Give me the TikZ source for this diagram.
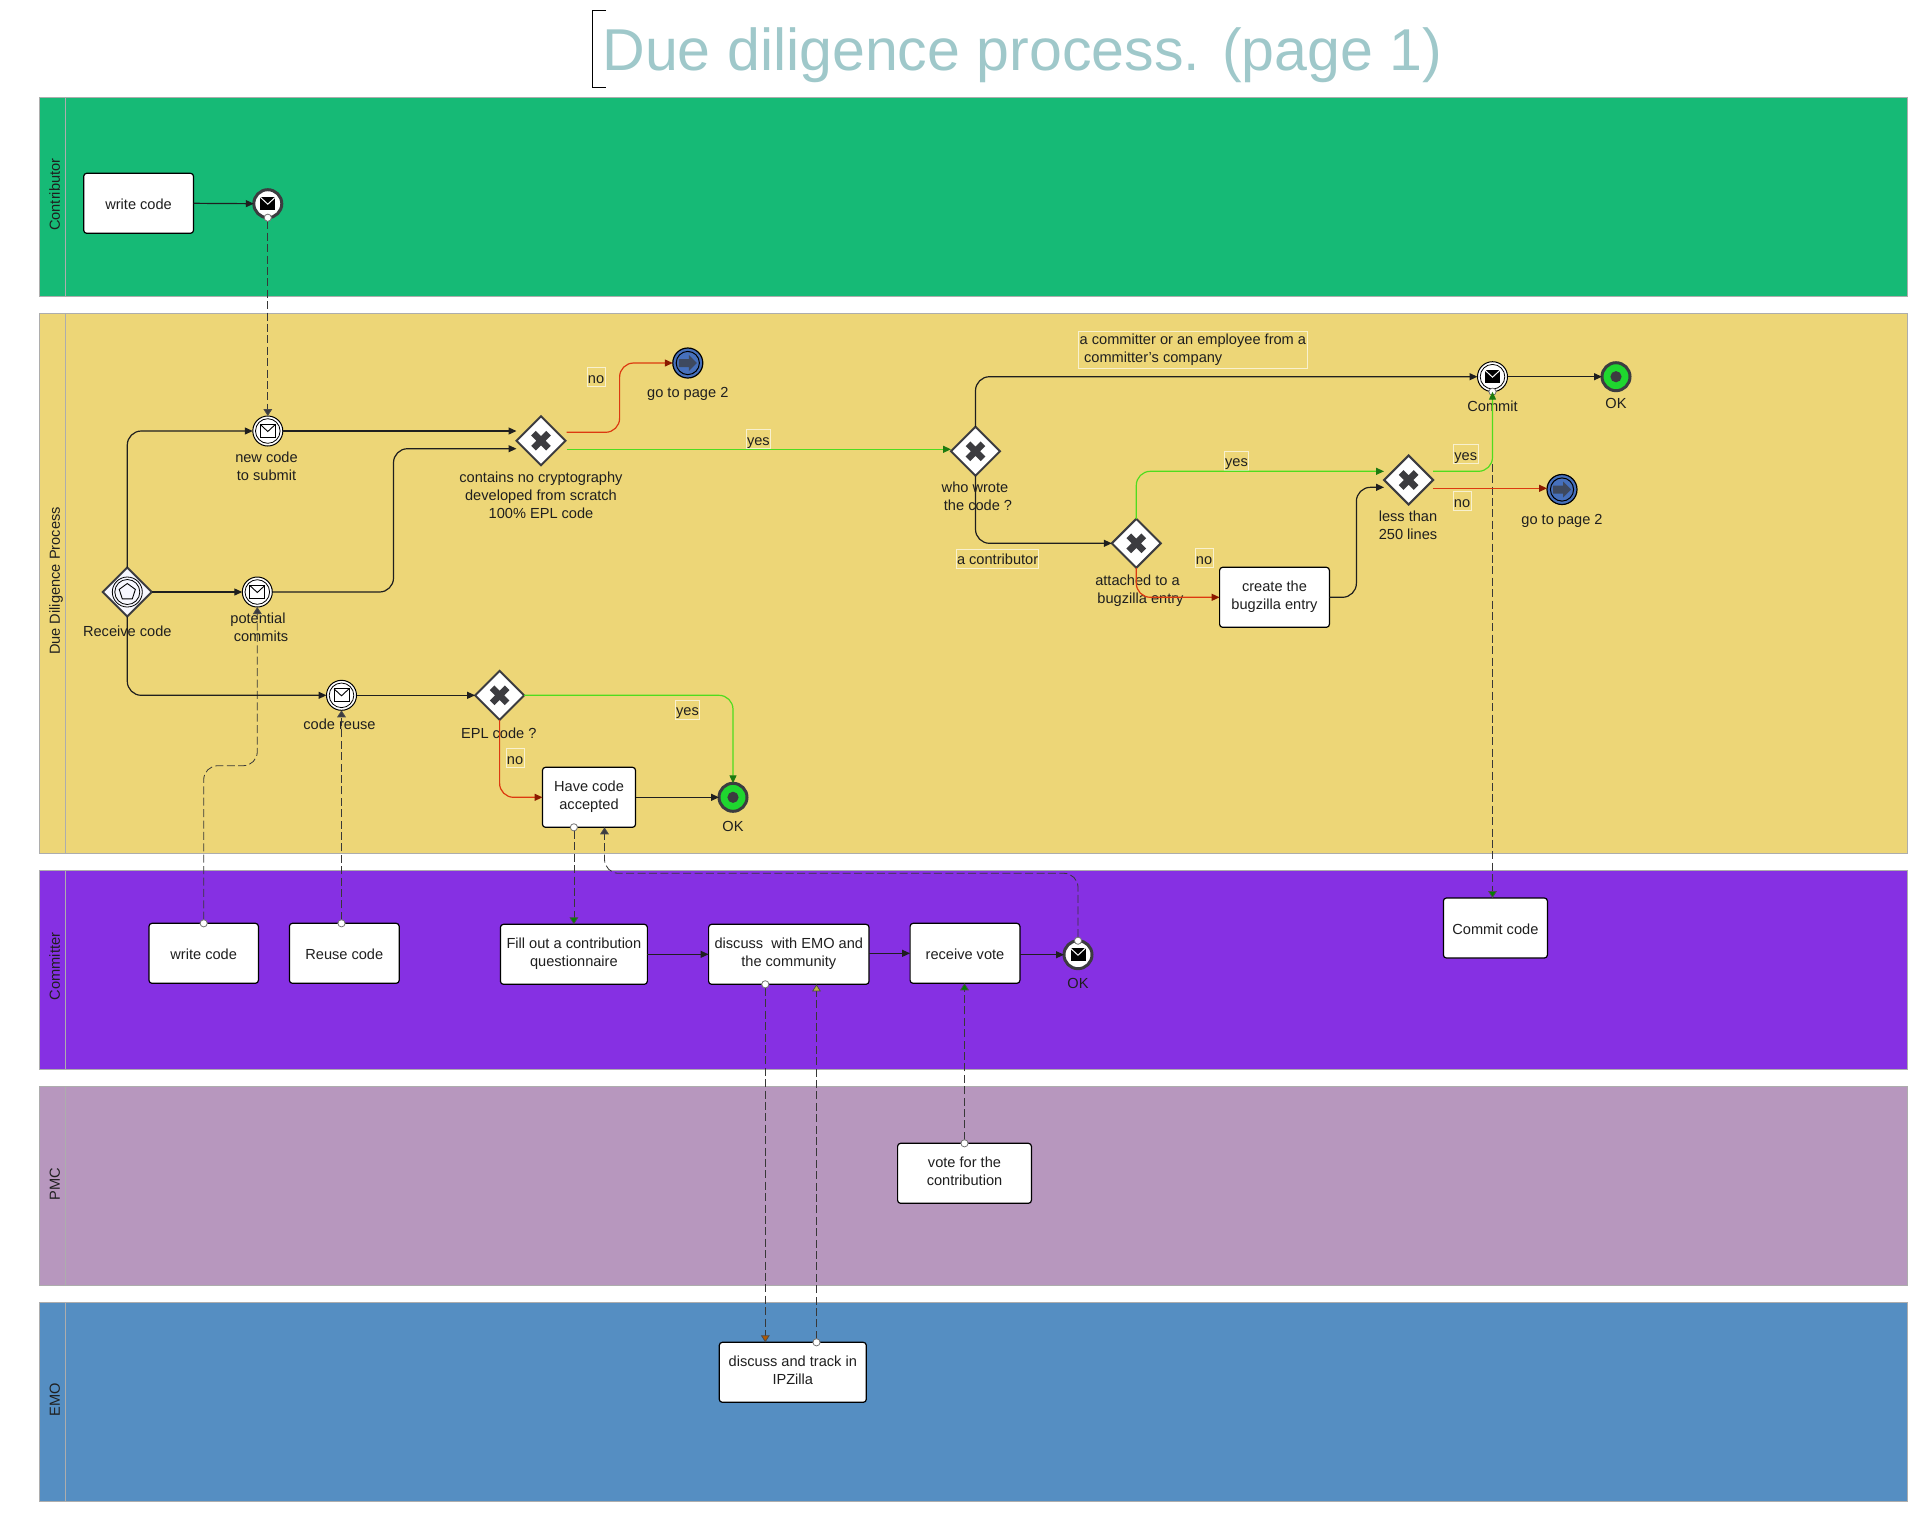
\documentclass[tikz,border=0pt]{standalone}
\usepackage{fontspec}
\setmainfont{Liberation Sans}
\usetikzlibrary{arrows.meta,shapes.geometric,calc}
\definecolor{cGreen}{HTML}{16BA76}
\definecolor{cYellow}{HTML}{EDD677}
\definecolor{cPurple}{HTML}{8630E3}
\definecolor{cMauve}{HTML}{B797BE}
\definecolor{cBlue}{HTML}{558EC2}
\definecolor{cTitle}{HTML}{9FC8CA}
\definecolor{cDark}{HTML}{3C3C40}
\definecolor{cRed}{HTML}{DC3A10}
\definecolor{cRedTip}{HTML}{8A1A00}
\definecolor{cLine}{HTML}{4FDC1E}
\definecolor{cLineTip}{HTML}{1E7A10}
\definecolor{cEnd}{HTML}{1FD62F}
\definecolor{cLink}{HTML}{4670BC}
\definecolor{cLab}{HTML}{F8F1CF}
\tikzset{
  tx/.style={font=\fontsize{7.3}{9}\selectfont,text=black!88,align=center,inner sep=0pt,outer sep=0pt,
    execute at begin node=\rule{0pt}{7.7pt},execute at end node=\rule[-1.7pt]{0pt}{1.7pt}},
  pool/.style={draw=black!32,line width=.5pt},
  poolname/.style={tx,rotate=90},
  taskbox/.style={tx,draw=black,fill=white,line width=.6pt,rounded corners=1.5pt,minimum height=30pt},
  edgelab/.style={tx,draw=cLab,line width=.4pt,minimum height=9.7pt},
  gate/.style={diamond,aspect=1,draw=cDark,fill=white,line width=1pt,minimum width=24.5pt,minimum height=24.5pt,inner sep=0pt,outer sep=0pt},
  evt/.style={circle,draw=black,fill=white,line width=.5pt,minimum size=15pt,inner sep=0pt,outer sep=0pt},
  evthick/.style={evt,draw=cDark,line width=1.5pt,minimum size=14pt},
  evend/.style={evthick,fill=cEnd},
  evlink/.style={evt,fill=cLink,line width=.6pt},
  flow/.style={draw=black!88,line width=.6pt,rounded corners=7pt,-{Triangle[length=4pt,width=3.5pt]}},
  flowno/.style={draw=cRed,line width=.6pt,rounded corners=7pt,-{Triangle[length=4pt,width=3.5pt,color=cRedTip,fill=cRedTip]}},
  flowyes/.style={draw=cLine,line width=.6pt,rounded corners=7pt,-{Triangle[length=4pt,width=3.5pt,color=cLineTip,fill=cLineTip]}},
  msgflow/.style={draw=black!78,line width=.4pt,dash pattern=on 4pt off 1.7pt,rounded corners=7pt,shorten <=-2pt,
    {Circle[length=4pt,color=black!55,fill=white]}-{Triangle[length=3.5pt,width=4.4pt,color=black!70,fill=#1]}},
  msgflow/.default={cDark},
  pics/ring/.style={code={\draw[black,line width=.4pt] (0,0) circle (12.3);}},
  pics/maillight/.style={code={
    \draw[black,line width=.45pt,fill=white] (-7.5,-6.5) rectangle (7.5,6.5);
    \draw[black,line width=.45pt] (-7.5,-6.5) -- (0,0.5) -- (7.5,-6.5);}},
  pics/maildark/.style={code={
    \fill[black] (-7.5,-6.5) rectangle (7.5,6.5);
    \draw[white,line width=.5pt] (-7.5,-6.5) -- (0,0.5) -- (7.5,-6.5);}},
  pics/crossmark/.style={code={
    \draw[cDark,line width=3.3pt] (-7.5,-7.5) -- (7.5,7.5) (-7.5,7.5) -- (7.5,-7.5);}},
  pics/enddot/.style={code={\fill[cDark] (0,0) circle (5.6);}},
  pics/linkmark/.style={code={
    \draw[black,line width=.5pt] (0,0) circle (11.6);
    \fill[cDark!75!cLink] (-9,-4) -- (1,-4) -- (1,-8) -- (9,0) -- (1,8) -- (1,4) -- (-9,4) -- cycle;}},
  pics/pentamark/.style={code={
    \draw[black,line width=.4pt] (0,0) circle (15) (0,0) circle (12.5);
    \draw[black,line width=.45pt] (90:-8.5) -- (162:-8.5) -- (234:-8.5) -- (306:-8.5) -- (18:-8.5) -- cycle;}},
}
\begin{document}
\begin{tikzpicture}[x=0.5pt,y=-0.5pt]
\useasboundingbox (0,0) rectangle (1918,1512);
% title
\node[anchor=base west,inner sep=0pt,text=cTitle,font=\fontsize{29.55}{32}\selectfont] (title) at (602,70) {Due diligence process. (page 1)};
\draw[black,line width=.5pt] (606,10.3) -- (592,10.3) -- (592,87) -- (606,87);
% pools
\draw[pool,fill=cGreen] (39.6,97.3) rectangle (1907.4,296);
\draw[pool,fill=cYellow] (39.6,313.3) rectangle (1907.4,853.3);
\draw[pool,fill=cPurple] (39.6,870) rectangle (1907.4,1069);
\draw[pool,fill=cMauve] (39.6,1086) rectangle (1907.4,1285);
\draw[pool,fill=cBlue] (39.6,1302) rectangle (1907.4,1501);
\draw[pool] (65.3,97.3) -- (65.3,296) (65.3,313.3) -- (65.3,853.3) (65.3,870) -- (65.3,1069) (65.3,1086) -- (65.3,1285) (65.3,1302) -- (65.3,1501);
\node[poolname] (pContributor) at (54,194.7) {Contributor};
\node[poolname] (pDue) at (54,581) {Due Diligence Process};
\node[poolname] (pCommitter) at (54,966.5) {Committer};
\node[poolname] (pPMC) at (54,1184) {PMC};
\node[poolname] (pEMO) at (54,1399.5) {EMO};
% tasks
\node[taskbox,minimum width=54.9pt] (wcA) at (138.6,203.3) {write code};
\node[taskbox,minimum width=46.5pt] (have) at (589,797.3) {Have code\\accepted};
\node[taskbox,minimum width=54.7pt] (wcB) at (203.7,953.3) {write code};
\node[taskbox,minimum width=54.9pt] (reuse) at (344.3,953.3) {Reuse code};
\node[taskbox,minimum width=73.45pt] (fillq) at (573.9,954.3) {Fill out a contribution\\questionnaire};
\node[taskbox,minimum width=80.2pt] (disc) at (788.8,954.3) {discuss\ \ with EMO and\\the community};
\node[taskbox,minimum width=54.9pt] (recv) at (965,953.3) {receive vote};
\node[taskbox,minimum width=66.9pt] (vote) at (964.5,1173.3) {vote for the\\contribution};
\node[taskbox,minimum width=73.5pt] (track) at (792.8,1372.3) {discuss and track in\\IPZilla};
\node[taskbox,minimum width=54.9pt] (create) at (1274.5,597.3) {create the\\bugzilla entry};
\node[taskbox,minimum width=52pt] (cc) at (1495.4,928) {Commit code};
% events
\node[evthick] (evA) at (267.8,203.7) {}; \pic at (evA) {maildark};
\node[evt] (newc) at (267.8,431) {}; \pic at (newc) {ring}; \pic at (newc) {maillight};
\node[evt] (pot) at (257.3,592) {}; \pic at (pot) {ring}; \pic at (pot) {maillight};
\node[evt] (creuse) at (341.5,695.3) {}; \pic at (creuse) {ring}; \pic at (creuse) {maillight};
\node[evt] (commit) at (1492.5,376.7) {}; \pic at (commit) {ring}; \pic at (commit) {maildark};
\node[evend] (okA) at (733,797.3) {}; \pic at (okA) {enddot};
\node[evend] (okB) at (1616,376.7) {}; \pic at (okB) {enddot};
\node[evlink] (pgA) at (687.8,363) {}; \pic at (pgA) {linkmark};
\node[evlink] (pgB) at (1562,489.5) {}; \pic at (pgB) {linkmark};
\node[evthick] (evB) at (1078,954.7) {}; \pic at (evB) {maildark};
% gateways
\node[gate,fill=blue!3] (rcv) at (127.3,592) {}; \pic at (rcv) {pentamark};
\node[gate] (gA) at (541,440.7) {}; \pic at (gA) {crossmark};
\node[gate] (gB) at (499.6,695.3) {}; \pic at (gB) {crossmark};
\node[gate] (gC) at (975.5,451.3) {}; \pic at (gC) {crossmark};
\node[gate] (gD) at (1136.3,543.3) {}; \pic at (gD) {crossmark};
\node[gate] (gE) at (1408.6,480) {}; \pic at (gE) {crossmark};
% element captions
\node[tx] (lNew) at (266.5,468) {new code\\to submit};
\node[tx] (lTest) at (541,497.3) {contains no cryptography\\developed from scratch\\100\% EPL code};
\node[tx] (lRcv) at (127.3,630) {Receive code};
\node[tx] (lPot) at (258,629) {potential\\\hspace*{3pt}commits};
\node[tx] (lReuse) at (339.5,723) {code reuse};
\node[tx] (lEpl) at (498.8,732.7) {EPL code ?};
\node[tx] (lOkA) at (733,825.7) {OK};
\node[tx] (lOkC) at (1078,982.7) {OK};
\node[tx] (lPgA) at (687.8,391.3) {go to page 2};
\node[tx] (lWho) at (975,498.3) {who wrote\\\hspace*{3pt}the code ?};
\node[tx] (lAtt) at (1137.5,590.5) {attached to a\\\hspace*{3pt}bugzilla entry};
\node[tx] (lLess) at (1408,527) {less than\\250 lines};
\node[tx] (lCommit) at (1492.5,405) {Commit};
\node[tx] (lOkB) at (1616,402.7) {OK};
\node[tx] (lPgB) at (1562,518.3) {go to page 2};
% edge labels
\node[edgelab,minimum width=9pt] (eNoA) at (596,377) {no};
\node[edgelab,minimum width=12.2pt] (eYesA) at (758.4,439) {yes};
\node[edgelab,minimum width=9pt] (eNoB) at (515,758) {no};
\node[edgelab,minimum width=12.2pt] (eYesB) at (687.5,709.8) {yes};
\node[edgelab,minimum width=41.2pt] (eContr) at (997.6,558.8) {a contributor};
\node[edgelab,minimum width=9pt] (eNoC) at (1204,558) {no};
\node[edgelab,minimum width=12.2pt] (eYesC) at (1236.5,460.7) {yes};
\node[edgelab,minimum width=12.2pt] (eYesD) at (1465.7,454) {yes};
\node[edgelab,minimum width=9pt] (eNoD) at (1462,501) {no};
\node[edgelab,minimum width=114.5pt,minimum height=18.7pt,align=left] (eComm) at (1192.9,349.6) {a committer or an employee from a\\\hspace*{2.2pt}committer's company};
% free coordinates
\coordinate (gAtop) at (516.5,431.3);
\coordinate (gAlow) at (516.5,448.7);
\coordinate (potBend) at (393.5,592);
\coordinate (gAnoOut) at (566.5,432.3);
\coordinate (gAnoBend) at (619.6,432.3);
\coordinate (gAyesOut) at (566.5,449.3);
\coordinate (gCin) at (951,449.3);
\coordinate (gEtop) at (1384,471.3);
\coordinate (gElow) at (1384,487.3);
\coordinate (gEyesOut) at (1433.1,471.3);
\coordinate (gEnoOut) at (1433.1,488.3);
\coordinate (bendCreate) at (1356.4,597.3);
\coordinate (msgMid) at (230,765.7);
\coordinate (msgOk) at (800,873.3);
\coordinate (xHaveIn) at (604.5,0);
\coordinate (xDa) at (765.3,0);
\coordinate (xDb) at (816.5,0);
% message flows
\draw[msgflow] (evA.south) -- (newc.north);
\draw[msgflow] (wcB.north) -- (wcB.north |- msgMid) -- (pot.south |- msgMid) -- (pot.south);
\draw[msgflow] (reuse.north -| creuse.south) -- (creuse.south);
\draw[msgflow=green!50!black] (fillq.north |- have.south) -- (fillq.north);
\draw[msgflow] (evB.north) -- (evB.north |- msgOk) -- (xHaveIn |- msgOk) -- (xHaveIn |- have.south);
\draw[msgflow=orange!70!black] (disc.south -| xDa) -- (track.north -| xDa);
\draw[msgflow=yellow!70!black] (track.north -| xDb) -- (disc.south -| xDb);
\draw[msgflow=green!50!black] (vote.north) -- (vote.north |- recv.south);
\draw[msgflow=green!50!black] (commit.south) -- (commit.south |- cc.north);
% sequence flows
\draw[flow] (wcA.east) -- (evA.west);
\draw[flow] (rcv.north) -- (rcv.north |- newc.west) -- (newc.west);
\draw[flow] (newc.east) -- (gAtop |- newc.east);
\draw[flow] (rcv.east) -- (pot.west);
\draw[flow] (pot.east) -- (potBend) -- (potBend |- gAlow) -- (gAlow);
\draw[flow] (rcv.south) -- (rcv.south |- creuse.west) -- (creuse.west);
\draw[flow] (creuse.east) -- (gB.west);
\draw[flowyes] (gB.east) -- (okA.north |- gB.east) -- (okA.north);
\draw[flowno] (gB.south) -- (gB.south |- have.west) -- (have.west);
\draw[flow] (have.east) -- (okA.west);
\draw[flowno] (gAnoOut) -- (gAnoBend) -- (gAnoBend |- pgA.west) -- (pgA.west);
\draw[flowyes] (gAyesOut) -- (gCin);
\draw[flow] (gC.north) -- (gC.north |- commit.west) -- (commit.west);
\draw[flow] (gC.south) -- (gC.south |- gD.west) -- (gD.west);
\draw[flowyes] (gD.north) -- (gD.north |- gEtop) -- (gEtop);
\draw[flowno] (gD.south) -- (gD.south |- create.west) -- (create.west);
\draw[flow] (create.east) -- (bendCreate) -- (bendCreate |- gElow) -- (gElow);
\draw[flowyes] (gEyesOut) -- (commit.south |- gEyesOut) -- (commit.south);
\draw[flowno] (gEnoOut) -- (pgB.west |- gEnoOut);
\draw[flow] (commit.east) -- (okB.west);
\draw[flow] (fillq.east) -- (disc.west);
\draw[flow] (disc.east |- recv.west) -- (recv.west);
\draw[flow] (recv.east |- evB.west) -- (evB.west);
\end{tikzpicture}
\end{document}
